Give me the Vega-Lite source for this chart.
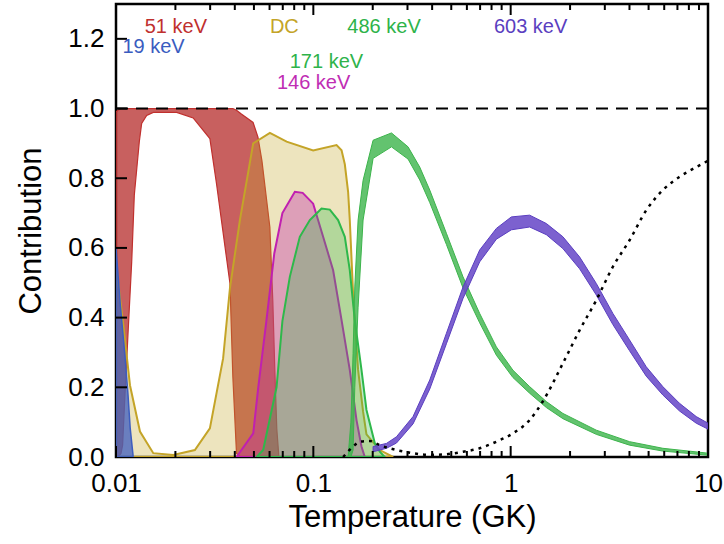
{
  "$schema": "https://vega.github.io/schema/vega-lite/v6.json",
  "width": 592,
  "height": 453,
  "autosize": {"type": "none"},
  "padding": {"left": 116, "top": 4, "right": 16, "bottom": 87},
  "background": "white",
  "config": {
    "view": {"stroke": "#000", "strokeWidth": 2.5},
    "font": "Liberation Sans",
    "axis": {
      "grid": false, "domain": false, "ticks": false,
      "labelColor": "#000", "titleColor": "#000", "labelFont": "Liberation Sans", "titleFont": "Liberation Sans",
      "labelFontSize": 26, "titleFontSize": 31, "titleFontWeight": "normal"
    }
  },
  "datasets": {
    "bands": [
      {"s": "51", "T": 0.01, "lo": 0, "hi": 0.99},
      {"s": "51", "T": 0.0102, "lo": 0, "hi": 0.995},
      {"s": "51", "T": 0.0106, "lo": 0.01, "hi": 1.0},
      {"s": "51", "T": 0.0108, "lo": 0.034, "hi": 1.0},
      {"s": "51", "T": 0.0111, "lo": 0.178, "hi": 1.0},
      {"s": "51", "T": 0.01154, "lo": 0.369, "hi": 1.0},
      {"s": "51", "T": 0.01201, "lo": 0.56, "hi": 1.0},
      {"s": "51", "T": 0.01238, "lo": 0.751, "hi": 1.0},
      {"s": "51", "T": 0.01312, "lo": 0.904, "hi": 1.0},
      {"s": "51", "T": 0.01349, "lo": 0.957, "hi": 1.0},
      {"s": "51", "T": 0.0143, "lo": 0.98, "hi": 1.0},
      {"s": "51", "T": 0.01545, "lo": 0.989, "hi": 1.0},
      {"s": "51", "T": 0.0203, "lo": 0.989, "hi": 1.0},
      {"s": "51", "T": 0.0246, "lo": 0.973, "hi": 1.0},
      {"s": "51", "T": 0.0299, "lo": 0.914, "hi": 1.0},
      {"s": "51", "T": 0.0323, "lo": 0.785, "hi": 1.0},
      {"s": "51", "T": 0.0378, "lo": 0.498, "hi": 1.0},
      {"s": "51", "T": 0.0391, "lo": 0.23, "hi": 1.0},
      {"s": "51", "T": 0.0408, "lo": 0.01, "hi": 0.995},
      {"s": "51", "T": 0.043, "lo": 0, "hi": 0.985},
      {"s": "51", "T": 0.0495, "lo": 0, "hi": 0.96},
      {"s": "51", "T": 0.0524, "lo": 0, "hi": 0.918},
      {"s": "51", "T": 0.0549, "lo": 0, "hi": 0.85},
      {"s": "51", "T": 0.0602, "lo": 0, "hi": 0.66},
      {"s": "51", "T": 0.0623, "lo": 0, "hi": 0.45},
      {"s": "51", "T": 0.0638, "lo": 0, "hi": 0.25},
      {"s": "51", "T": 0.0653, "lo": 0, "hi": 0.08},
      {"s": "51", "T": 0.0669, "lo": 0, "hi": 0},

      {"s": "19", "T": 0.01, "lo": 0, "hi": 0.6},
      {"s": "19", "T": 0.0105, "lo": 0, "hi": 0.44},
      {"s": "19", "T": 0.0111, "lo": 0, "hi": 0.29},
      {"s": "19", "T": 0.0115, "lo": 0, "hi": 0.18},
      {"s": "19", "T": 0.0118, "lo": 0, "hi": 0.083},
      {"s": "19", "T": 0.0122, "lo": 0, "hi": 0.005},

      {"s": "DC", "T": 0.01, "lo": 0, "hi": 0.55},
      {"s": "DC", "T": 0.01089, "lo": 0, "hi": 0.379},
      {"s": "DC", "T": 0.01177, "lo": 0, "hi": 0.206},
      {"s": "DC", "T": 0.01323, "lo": 0, "hi": 0.073},
      {"s": "DC", "T": 0.01545, "lo": 0, "hi": 0.011},
      {"s": "DC", "T": 0.0195, "lo": 0, "hi": 0.006},
      {"s": "DC", "T": 0.0251, "lo": 0, "hi": 0.02},
      {"s": "DC", "T": 0.0299, "lo": 0, "hi": 0.082},
      {"s": "DC", "T": 0.0349, "lo": 0, "hi": 0.283},
      {"s": "DC", "T": 0.0378, "lo": 0, "hi": 0.485},
      {"s": "DC", "T": 0.04245, "lo": 0, "hi": 0.68},
      {"s": "DC", "T": 0.04958, "lo": 0, "hi": 0.9},
      {"s": "DC", "T": 0.06024, "lo": 0, "hi": 0.93},
      {"s": "DC", "T": 0.0732, "lo": 0, "hi": 0.905},
      {"s": "DC", "T": 0.0998, "lo": 0, "hi": 0.88},
      {"s": "DC", "T": 0.1311, "lo": 0, "hi": 0.895},
      {"s": "DC", "T": 0.139, "lo": 0, "hi": 0.88},
      {"s": "DC", "T": 0.1444, "lo": 0, "hi": 0.84},
      {"s": "DC", "T": 0.1501, "lo": 0, "hi": 0.76},
      {"s": "DC", "T": 0.153, "lo": 0, "hi": 0.68},
      {"s": "DC", "T": 0.159, "lo": 0, "hi": 0.47},
      {"s": "DC", "T": 0.1686, "lo": 0, "hi": 0.25},
      {"s": "DC", "T": 0.1787, "lo": 0, "hi": 0.13},
      {"s": "DC", "T": 0.1859, "lo": 0, "hi": 0.065},
      {"s": "DC", "T": 0.2172, "lo": 0, "hi": 0.02},
      {"s": "DC", "T": 0.2536, "lo": 0, "hi": 0},

      {"s": "146", "T": 0.0408, "lo": 0, "hi": 0},
      {"s": "146", "T": 0.0496, "lo": 0, "hi": 0.068},
      {"s": "146", "T": 0.0526, "lo": 0, "hi": 0.2},
      {"s": "146", "T": 0.0578, "lo": 0, "hi": 0.39},
      {"s": "146", "T": 0.0634, "lo": 0, "hi": 0.584},
      {"s": "146", "T": 0.0697, "lo": 0, "hi": 0.7},
      {"s": "146", "T": 0.0806, "lo": 0, "hi": 0.761},
      {"s": "146", "T": 0.0883, "lo": 0, "hi": 0.758},
      {"s": "146", "T": 0.0998, "lo": 0, "hi": 0.727},
      {"s": "146", "T": 0.1121, "lo": 0, "hi": 0.632},
      {"s": "146", "T": 0.126, "lo": 0, "hi": 0.536},
      {"s": "146", "T": 0.139, "lo": 0, "hi": 0.393},
      {"s": "146", "T": 0.153, "lo": 0, "hi": 0.25},
      {"s": "146", "T": 0.1655, "lo": 0, "hi": 0.106},
      {"s": "146", "T": 0.1754, "lo": 0, "hi": 0.03},
      {"s": "146", "T": 0.1823, "lo": 0, "hi": 0},

      {"s": "171", "T": 0.0516, "lo": 0, "hi": 0},
      {"s": "171", "T": 0.0557, "lo": 0, "hi": 0.02},
      {"s": "171", "T": 0.0651, "lo": 0, "hi": 0.2},
      {"s": "171", "T": 0.0697, "lo": 0, "hi": 0.39},
      {"s": "171", "T": 0.076, "lo": 0, "hi": 0.517},
      {"s": "171", "T": 0.0854, "lo": 0, "hi": 0.632},
      {"s": "171", "T": 0.096, "lo": 0, "hi": 0.68},
      {"s": "171", "T": 0.1038, "lo": 0, "hi": 0.699},
      {"s": "171", "T": 0.11, "lo": 0, "hi": 0.713},
      {"s": "171", "T": 0.1212, "lo": 0, "hi": 0.71},
      {"s": "171", "T": 0.1335, "lo": 0, "hi": 0.68},
      {"s": "171", "T": 0.1444, "lo": 0, "hi": 0.632},
      {"s": "171", "T": 0.153, "lo": 0, "hi": 0.536},
      {"s": "171", "T": 0.1622, "lo": 0, "hi": 0.393},
      {"s": "171", "T": 0.1754, "lo": 0, "hi": 0.25},
      {"s": "171", "T": 0.1859, "lo": 0, "hi": 0.135},
      {"s": "171", "T": 0.2048, "lo": 0, "hi": 0.04},
      {"s": "171", "T": 0.2172, "lo": 0, "hi": 0.015},
      {"s": "171", "T": 0.23, "lo": 0, "hi": 0},

      {"s": "486", "T": 0.15, "lo": 0, "hi": 0},
      {"s": "486", "T": 0.155, "lo": 0, "hi": 0.1},
      {"s": "486", "T": 0.159, "lo": 0.02, "hi": 0.297},
      {"s": "486", "T": 0.1622, "lo": 0.2, "hi": 0.488},
      {"s": "486", "T": 0.1686, "lo": 0.43, "hi": 0.68},
      {"s": "486", "T": 0.1787, "lo": 0.68, "hi": 0.794},
      {"s": "486", "T": 0.2008, "lo": 0.857, "hi": 0.909},
      {"s": "486", "T": 0.2489, "lo": 0.89, "hi": 0.93},
      {"s": "486", "T": 0.302, "lo": 0.855, "hi": 0.89},
      {"s": "486", "T": 0.3461, "lo": 0.795, "hi": 0.832},
      {"s": "486", "T": 0.389, "lo": 0.73, "hi": 0.766},
      {"s": "486", "T": 0.4725, "lo": 0.61, "hi": 0.642},
      {"s": "486", "T": 0.5735, "lo": 0.485, "hi": 0.517},
      {"s": "486", "T": 0.6966, "lo": 0.385, "hi": 0.412},
      {"s": "486", "T": 0.8465, "lo": 0.292, "hi": 0.316},
      {"s": "486", "T": 1.0271, "lo": 0.228, "hi": 0.249},
      {"s": "486", "T": 1.2479, "lo": 0.183, "hi": 0.202},
      {"s": "486", "T": 1.5165, "lo": 0.142, "hi": 0.159},
      {"s": "486", "T": 1.8398, "lo": 0.11, "hi": 0.125},
      {"s": "486", "T": 2.716, "lo": 0.065, "hi": 0.077},
      {"s": "486", "T": 4.003, "lo": 0.034, "hi": 0.044},
      {"s": "486", "T": 5.903, "lo": 0.017, "hi": 0.025},
      {"s": "486", "T": 10, "lo": 0.005, "hi": 0.011},

      {"s": "603", "T": 0.2008, "lo": 0.015, "hi": 0.03},
      {"s": "603", "T": 0.2348, "lo": 0.025, "hi": 0.039},
      {"s": "603", "T": 0.2638, "lo": 0.04, "hi": 0.058},
      {"s": "603", "T": 0.3201, "lo": 0.095, "hi": 0.116},
      {"s": "603", "T": 0.389, "lo": 0.195, "hi": 0.221},
      {"s": "603", "T": 0.4725, "lo": 0.325, "hi": 0.355},
      {"s": "603", "T": 0.5735, "lo": 0.455, "hi": 0.488},
      {"s": "603", "T": 0.6966, "lo": 0.56, "hi": 0.594},
      {"s": "603", "T": 0.8465, "lo": 0.625, "hi": 0.656},
      {"s": "603", "T": 1.008, "lo": 0.652, "hi": 0.689},
      {"s": "603", "T": 1.2479, "lo": 0.66, "hi": 0.694},
      {"s": "603", "T": 1.5165, "lo": 0.638, "hi": 0.67},
      {"s": "603", "T": 1.8398, "lo": 0.598, "hi": 0.632},
      {"s": "603", "T": 2.236, "lo": 0.54, "hi": 0.574},
      {"s": "603", "T": 2.716, "lo": 0.465, "hi": 0.498},
      {"s": "603", "T": 3.296, "lo": 0.38, "hi": 0.412},
      {"s": "603", "T": 4.003, "lo": 0.305, "hi": 0.336},
      {"s": "603", "T": 4.864, "lo": 0.232, "hi": 0.259},
      {"s": "603", "T": 5.903, "lo": 0.178, "hi": 0.202},
      {"s": "603", "T": 7.173, "lo": 0.132, "hi": 0.154},
      {"s": "603", "T": 8.716, "lo": 0.097, "hi": 0.116},
      {"s": "603", "T": 10, "lo": 0.08, "hi": 0.097}
    ],
    "dots": [
      {"T": 0.1416, "hi": 0.0},
      {"T": 0.159, "hi": 0.03},
      {"T": 0.172, "hi": 0.044},
      {"T": 0.1932, "hi": 0.046},
      {"T": 0.2172, "hi": 0.034},
      {"T": 0.2638, "hi": 0.02},
      {"T": 0.3201, "hi": 0.011},
      {"T": 0.389, "hi": 0.006},
      {"T": 0.4725, "hi": 0.008},
      {"T": 0.5735, "hi": 0.015},
      {"T": 0.6966, "hi": 0.025},
      {"T": 0.8465, "hi": 0.044},
      {"T": 1.0271, "hi": 0.068},
      {"T": 1.2479, "hi": 0.106},
      {"T": 1.457, "hi": 0.16},
      {"T": 1.8398, "hi": 0.269},
      {"T": 2.236, "hi": 0.364},
      {"T": 2.716, "hi": 0.45},
      {"T": 3.296, "hi": 0.546},
      {"T": 4.003, "hi": 0.622},
      {"T": 4.864, "hi": 0.708},
      {"T": 5.903, "hi": 0.766},
      {"T": 7.173, "hi": 0.804},
      {"T": 8.716, "hi": 0.832},
      {"T": 10, "hi": 0.85}
    ],
    "unity": [{"T": 0.01, "hi": 1}, {"T": 10, "hi": 1}],
    "xticks": [
      {"T": 0.01, "kind": "major"}, {"T": 0.02, "kind": "minor"}, {"T": 0.03, "kind": "minor"}, {"T": 0.04, "kind": "minor"},
      {"T": 0.05, "kind": "minor"}, {"T": 0.06, "kind": "minor"}, {"T": 0.07, "kind": "minor"}, {"T": 0.08, "kind": "minor"},
      {"T": 0.09, "kind": "minor"}, {"T": 0.1, "kind": "major"}, {"T": 0.2, "kind": "minor"}, {"T": 0.3, "kind": "minor"},
      {"T": 0.4, "kind": "minor"}, {"T": 0.5, "kind": "minor"}, {"T": 0.6, "kind": "minor"}, {"T": 0.7, "kind": "minor"},
      {"T": 0.8, "kind": "minor"}, {"T": 0.9, "kind": "minor"}, {"T": 1, "kind": "major"}, {"T": 2, "kind": "minor"},
      {"T": 3, "kind": "minor"}, {"T": 4, "kind": "minor"}, {"T": 5, "kind": "minor"}, {"T": 6, "kind": "minor"},
      {"T": 7, "kind": "minor"}, {"T": 8, "kind": "minor"}, {"T": 9, "kind": "minor"}, {"T": 10, "kind": "major"}
    ],
    "yticks": [{"hi": 0.2}, {"hi": 0.4}, {"hi": 0.6}, {"hi": 0.8}, {"hi": 1.0}, {"hi": 1.2}],
    "labels": [
      {"label": "51 keV", "T": 0.0201, "hi": 1.233},
      {"label": "19 keV", "T": 0.01549, "hi": 1.176},
      {"label": "DC", "T": 0.0713, "hi": 1.233},
      {"label": "486 keV", "T": 0.2282, "hi": 1.233},
      {"label": "603 keV", "T": 1.262, "hi": 1.233},
      {"label": "171 keV", "T": 0.1165, "hi": 1.133},
      {"label": "146 keV", "T": 0.1003, "hi": 1.073}
    ]
  },
  "layer": [
    {
      "data": {"name": "bands"},
      "transform": [{"filter": "datum.s == '51'"}],
      "mark": {"type": "area", "clip": true, "color": "#b83332", "fillOpacity": 0.78, "stroke": "#c0302e", "strokeWidth": 1.2},
      "encoding": {
        "x": {"field": "T", "type": "quantitative", "scale": {"type": "log", "domain": [0.01, 10], "nice": false},
          "axis": {"orient": "bottom", "values": [0.01, 0.1, 1, 10],
            "labelExpr": "datum.value == 0.01 ? '0.01' : datum.value == 0.1 ? '0.1' : datum.value == 1 ? '1' : '10'",
            "labelPadding": 13, "labelOverlap": false, "labelFlush": false,
            "title": "Temperature (GK)", "titlePadding": 6}},
        "y": {"field": "hi", "type": "quantitative", "scale": {"domain": [0, 1.3], "nice": false, "zero": false},
          "axis": {"orient": "left", "values": [0, 0.2, 0.4, 0.6, 0.8, 1.0, 1.2], "format": ".1f",
            "labelPadding": 12, "title": "Contribution", "titlePadding": 20}},
        "y2": {"field": "lo"}
      }
    },
    {
      "data": {"name": "bands"},
      "transform": [{"filter": "datum.s == 'DC'"}],
      "mark": {"type": "area", "clip": true, "color": "#c4a428", "fillOpacity": 0.3, "stroke": "#c4a428", "strokeWidth": 2},
      "encoding": {
        "x": {"field": "T", "type": "quantitative", "axis": null},
        "y": {"field": "hi", "type": "quantitative"},
        "y2": {"field": "lo"}
      }
    },
    {
      "data": {"name": "bands"},
      "transform": [{"filter": "datum.s == '19'"}],
      "mark": {"type": "area", "clip": true, "color": "#3d5dbf", "fillOpacity": 0.75, "stroke": "#3d5dbf", "strokeWidth": 1.5},
      "encoding": {
        "x": {"field": "T", "type": "quantitative", "axis": null},
        "y": {"field": "hi", "type": "quantitative"},
        "y2": {"field": "lo"}
      }
    },
    {
      "data": {"name": "bands"},
      "transform": [{"filter": "datum.s == '146'"}],
      "mark": {"type": "area", "clip": true, "color": "#c020b0", "fillOpacity": 0.35, "stroke": "#c020b0", "strokeWidth": 2},
      "encoding": {
        "x": {"field": "T", "type": "quantitative", "axis": null},
        "y": {"field": "hi", "type": "quantitative"},
        "y2": {"field": "lo"}
      }
    },
    {
      "data": {"name": "bands"},
      "transform": [{"filter": "datum.s == '171'"}],
      "mark": {"type": "area", "clip": true, "color": "#2eb84b", "fillOpacity": 0.3, "stroke": "#2eb84b", "strokeWidth": 2},
      "encoding": {
        "x": {"field": "T", "type": "quantitative", "axis": null},
        "y": {"field": "hi", "type": "quantitative"},
        "y2": {"field": "lo"}
      }
    },
    {
      "data": {"name": "bands"},
      "transform": [{"filter": "datum.s == '486'"}],
      "mark": {"type": "area", "clip": true, "color": "#3cb44b", "fillOpacity": 0.8, "stroke": "#3cb44b", "strokeWidth": 1},
      "encoding": {
        "x": {"field": "T", "type": "quantitative", "axis": null},
        "y": {"field": "hi", "type": "quantitative"},
        "y2": {"field": "lo"}
      }
    },
    {
      "data": {"name": "bands"},
      "transform": [{"filter": "datum.s == '603'"}],
      "mark": {"type": "area", "clip": true, "color": "#6a4bc8", "fillOpacity": 0.88, "stroke": "#5a3ec0", "strokeWidth": 1},
      "encoding": {
        "x": {"field": "T", "type": "quantitative", "axis": null},
        "y": {"field": "hi", "type": "quantitative"},
        "y2": {"field": "lo"}
      }
    },
    {
      "data": {"name": "dots"},
      "mark": {"type": "line", "clip": true, "color": "#000", "strokeWidth": 2.5, "strokeDash": [3, 5], "interpolate": "monotone"},
      "encoding": {
        "x": {"field": "T", "type": "quantitative", "axis": null},
        "y": {"field": "hi", "type": "quantitative"}
      }
    },
    {
      "data": {"name": "unity"},
      "mark": {"type": "line", "clip": true, "color": "#000", "strokeWidth": 2, "strokeDash": [12, 8]},
      "encoding": {
        "x": {"field": "T", "type": "quantitative", "axis": null},
        "y": {"field": "hi", "type": "quantitative"}
      }
    },
    {
      "data": {"name": "xticks"},
      "transform": [{"filter": "datum.kind == 'major'"}],
      "mark": {"type": "tick", "clip": true, "orient": "vertical", "color": "#000", "opacity": 1, "size": 22, "thickness": 2},
      "encoding": {
        "x": {"field": "T", "type": "quantitative", "axis": null},
        "y": {"datum": 0, "type": "quantitative"}
      }
    },
    {
      "data": {"name": "xticks"},
      "transform": [{"filter": "datum.kind == 'minor'"}],
      "mark": {"type": "tick", "clip": true, "orient": "vertical", "color": "#000", "opacity": 1, "size": 12, "thickness": 2},
      "encoding": {
        "x": {"field": "T", "type": "quantitative", "axis": null},
        "y": {"datum": 0, "type": "quantitative"}
      }
    },
    {
      "data": {"name": "xticks"},
      "transform": [{"filter": "datum.kind == 'major'"}],
      "mark": {"type": "tick", "clip": true, "orient": "vertical", "color": "#000", "opacity": 1, "size": 22, "thickness": 2},
      "encoding": {
        "x": {"field": "T", "type": "quantitative", "axis": null},
        "y": {"datum": 1.3, "type": "quantitative"}
      }
    },
    {
      "data": {"name": "xticks"},
      "transform": [{"filter": "datum.kind == 'minor'"}],
      "mark": {"type": "tick", "clip": true, "orient": "vertical", "color": "#000", "opacity": 1, "size": 12, "thickness": 2},
      "encoding": {
        "x": {"field": "T", "type": "quantitative", "axis": null},
        "y": {"datum": 1.3, "type": "quantitative"}
      }
    },
    {
      "data": {"name": "yticks"},
      "mark": {"type": "tick", "clip": true, "orient": "horizontal", "color": "#000", "opacity": 1, "size": 22, "thickness": 2},
      "encoding": {
        "y": {"field": "hi", "type": "quantitative"},
        "x": {"datum": 0.01, "type": "quantitative", "axis": null}
      }
    },
    {
      "data": {"name": "labels"},
      "mark": {"type": "text", "fontSize": 20, "font": "Liberation Sans", "align": "center", "baseline": "middle"},
      "encoding": {
        "x": {"field": "T", "type": "quantitative", "axis": null},
        "y": {"field": "hi", "type": "quantitative"},
        "text": {"field": "label"},
        "color": {"field": "label", "type": "nominal", "legend": null,
          "scale": {"domain": ["51 keV", "19 keV", "DC", "486 keV", "603 keV", "171 keV", "146 keV"],
            "range": ["#c0302e", "#3a5cc0", "#c4a428", "#2eb34a", "#5a3ec0", "#2eb34a", "#bf2db4"]}}
      }
    }
  ],
  "resolve": {"axis": {"x": "independent"}}
}
